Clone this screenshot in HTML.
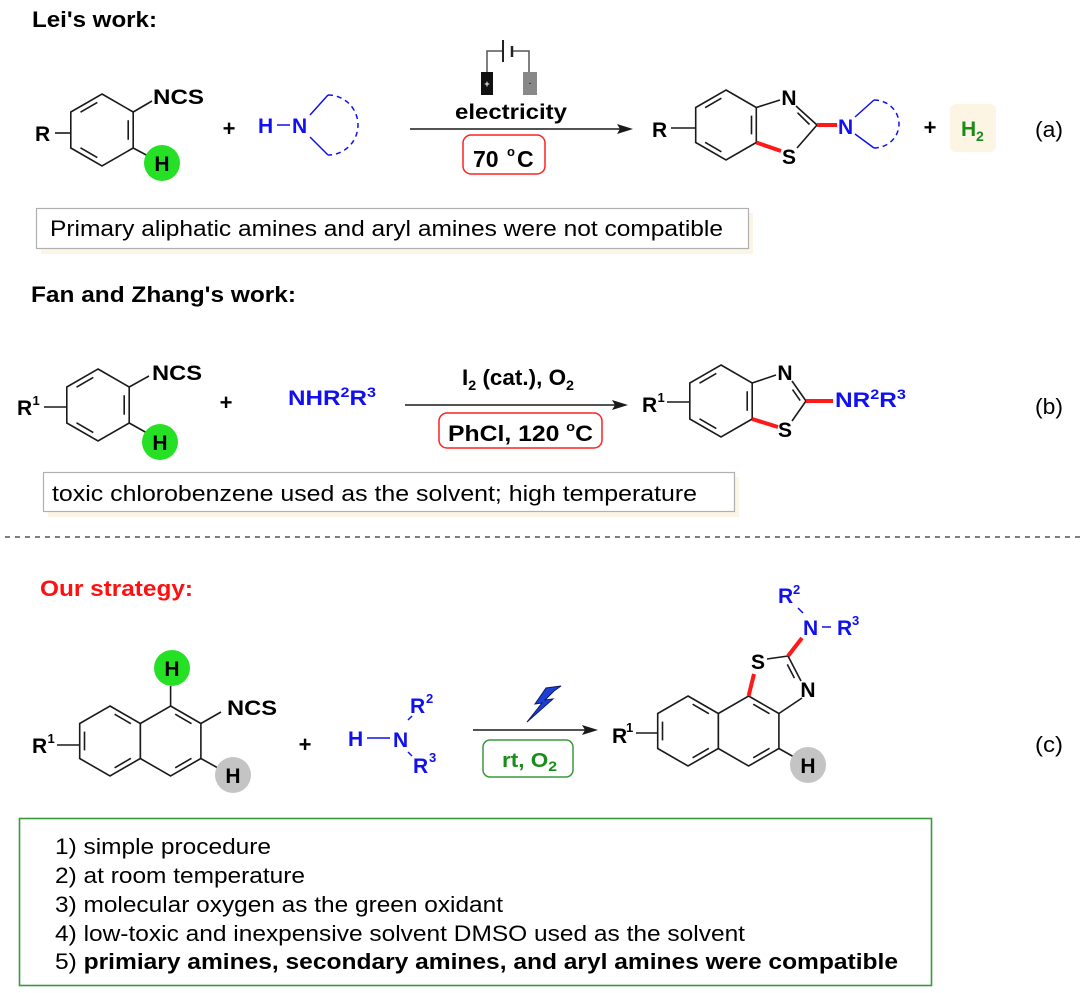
<!DOCTYPE html>
<html><head><meta charset="utf-8"><style>html,body{margin:0;padding:0;background:#fff;}svg{display:block;}</style></head>
<body>
<svg width="1080" height="993" viewBox="0 0 1080 993" xmlns="http://www.w3.org/2000/svg" font-family="'Liberation Sans', Arial, sans-serif">
<rect width="1080" height="993" fill="#fff"/>

<!-- ===================== (a) ===================== -->
<text x="32" y="27" font-size="22" font-weight="bold" textLength="125" lengthAdjust="spacingAndGlyphs">Lei's work:</text>

<!-- reactant ring -->
<g transform="translate(102,130)" stroke="#1a1a1a" stroke-width="1.6" fill="none">
  <polygon points="0,-36 31.2,-18 31.2,18 0,36 -31.2,18 -31.2,-18"/>
  <path d="M-21.5,-17.8 L-4.7,-27.6 M26.2,-9.7 L26.2,9.7 M-4.7,27.6 L-21.5,17.8"/>
</g>
<g stroke="#1a1a1a" stroke-width="1.6">
  <line x1="133.2" y1="112" x2="152" y2="101"/>
  <line x1="55" y1="133" x2="70.8" y2="133"/>
  <line x1="133.2" y1="148" x2="150" y2="157"/>
</g>
<text x="153" y="104" font-size="21" font-weight="bold" textLength="51" lengthAdjust="spacingAndGlyphs">NCS</text>
<text x="35" y="141" font-size="21" font-weight="bold">R</text>
<circle cx="162" cy="163" r="18" fill="#25e025"/>
<text x="162" y="171" font-size="21" font-weight="bold" text-anchor="middle">H</text>
<text x="229" y="136" font-size="22" font-weight="bold" text-anchor="middle">+</text>

<!-- amine -->
<g fill="#1010f0" font-size="21" font-weight="bold">
  <text x="258" y="133">H</text>
  <text x="292" y="133">N</text>
</g>
<g stroke="#1010f0" stroke-width="1.5" fill="none">
  <line x1="277" y1="125" x2="290" y2="125"/>
  <line x1="310" y1="115" x2="328" y2="95"/>
  <line x1="310" y1="137" x2="328" y2="155"/>
  <path d="M328,95 A30,30 0 1,1 328,155" stroke-dasharray="5,4"/>
</g>

<!-- battery -->
<g stroke="#555" stroke-width="1.5" fill="none">
  <polyline points="503,51 487,51 487,72"/>
  <polyline points="512,51 529,51 529,72"/>
</g>
<line x1="503" y1="40" x2="503" y2="62" stroke="#222" stroke-width="2"/>
<line x1="512" y1="46" x2="512" y2="57" stroke="#222" stroke-width="2.5"/>
<rect x="481" y="72" width="12" height="23" fill="#111"/>
<rect x="523" y="72" width="14" height="23" fill="#888"/>
<text x="487" y="87" font-size="9" fill="#fff" text-anchor="middle" font-weight="bold">+</text>
<text x="530" y="86" font-size="9" fill="#222" text-anchor="middle">-</text>

<text x="455" y="119" font-size="21" font-weight="bold" textLength="112" lengthAdjust="spacingAndGlyphs">electricity</text>
<line x1="410" y1="129" x2="620" y2="129" stroke="#1a1a1a" stroke-width="1.6"/>
<polygon points="633,129 617,124 620,129 617,134" fill="#1a1a1a"/>
<rect x="463" y="135" width="82" height="39" rx="8" fill="none" stroke="#ff2020" stroke-width="1.5"/>
<text font-size="23" font-weight="bold"><tspan x="473" y="167">70</tspan><tspan x="507" y="156" font-size="13">o</tspan><tspan x="517" y="167">C</tspan></text>

<!-- product a -->
<text x="652" y="137" font-size="21" font-weight="bold">R</text>
<g transform="translate(726,125)" stroke="#1a1a1a" stroke-width="1.6" fill="none">
  <polygon points="0,-35 30.3,-17.5 30.3,17.5 0,35 -30.3,17.5 -30.3,-17.5"/>
  <path d="M-20.9,-17.3 L-4.6,-26.8 M25.5,-9.4 L25.5,9.4 M-4.6,26.8 L-20.9,17.3"/>
</g>
<g stroke="#1a1a1a" stroke-width="1.6" fill="none">
  <line x1="671" y1="128" x2="695.7" y2="128"/>
  <line x1="756.3" y1="107.5" x2="780" y2="100"/>
  <line x1="796" y1="106" x2="817" y2="125"/>
  <line x1="797.5" y1="112.7" x2="809.5" y2="124.5"/>
  <line x1="817" y1="125" x2="797" y2="148"/>
</g>
<line x1="756.3" y1="142.5" x2="781" y2="151" stroke="#ff1a1a" stroke-width="4"/>
<line x1="817" y1="125" x2="837" y2="125" stroke="#ff1a1a" stroke-width="4"/>
<text x="789" y="105" font-size="21" font-weight="bold" text-anchor="middle">N</text>
<text x="789" y="164" font-size="21" font-weight="bold" text-anchor="middle">S</text>
<text x="838" y="134" font-size="21" font-weight="bold" fill="#1010f0">N</text>
<g stroke="#1010f0" stroke-width="1.5" fill="none">
  <line x1="855" y1="117" x2="874" y2="100"/>
  <line x1="855" y1="134" x2="874" y2="148"/>
  <path d="M874,100 A25,24 0 1,1 874,148" stroke-dasharray="5,4"/>
</g>
<text x="930" y="135" font-size="22" font-weight="bold" text-anchor="middle">+</text>
<rect x="950" y="104" width="46" height="48" rx="6" fill="#fcf5e3"/>
<text font-size="21" font-weight="bold" fill="#1a8c1a"><tspan x="961" y="136">H</tspan><tspan x="976" y="141" font-size="14">2</tspan></text>
<text x="1035" y="137" font-size="22" textLength="28" lengthAdjust="spacingAndGlyphs">(a)</text>

<!-- box a -->
<rect x="41" y="213" width="712" height="41" fill="#fbf5e6"/>
<rect x="36.5" y="208.5" width="712" height="40" fill="#fff" stroke="#b0b0b0" stroke-width="1.2"/>
<text x="50" y="236" font-size="22" textLength="673" lengthAdjust="spacingAndGlyphs">Primary aliphatic amines and aryl amines were not compatible</text>

<!-- ===================== (b) ===================== -->
<text x="31" y="302" font-size="22" font-weight="bold" textLength="265" lengthAdjust="spacingAndGlyphs">Fan and Zhang's work:</text>

<g transform="translate(98,405)" stroke="#1a1a1a" stroke-width="1.6" fill="none">
  <polygon points="0,-36 31.2,-18 31.2,18 0,36 -31.2,18 -31.2,-18"/>
  <path d="M-21.5,-17.8 L-4.7,-27.6 M26.2,-9.7 L26.2,9.7 M-4.7,27.6 L-21.5,17.8"/>
</g>
<g stroke="#1a1a1a" stroke-width="1.6">
  <line x1="129.2" y1="387" x2="149" y2="376"/>
  <line x1="44" y1="407" x2="66.8" y2="407"/>
  <line x1="129.2" y1="423" x2="147" y2="433"/>
</g>
<text x="152" y="380" font-size="21" font-weight="bold" textLength="50" lengthAdjust="spacingAndGlyphs">NCS</text>
<text font-size="21" font-weight="bold"><tspan x="17" y="415">R</tspan><tspan x="32.5" y="405" font-size="13">1</tspan></text>
<circle cx="160" cy="442" r="18" fill="#25e025"/>
<text x="160" y="450" font-size="21" font-weight="bold" text-anchor="middle">H</text>
<text x="226" y="410" font-size="22" font-weight="bold" text-anchor="middle">+</text>
<text x="288" y="405" font-size="21" font-weight="bold" fill="#1010f0" textLength="88" lengthAdjust="spacingAndGlyphs">NHR<tspan font-size="14" dy="-8">2</tspan><tspan dy="8">R</tspan><tspan font-size="14" dy="-8">3</tspan></text>

<text x="462" y="385" font-size="22" font-weight="bold" textLength="112" lengthAdjust="spacingAndGlyphs">I<tspan font-size="14" dy="5">2</tspan><tspan dy="-5"> (cat.), O</tspan><tspan font-size="14" dy="5">2</tspan></text>
<line x1="405" y1="405" x2="615" y2="405" stroke="#1a1a1a" stroke-width="1.6"/>
<polygon points="628,405 612,400 615,405 612,410" fill="#1a1a1a"/>
<rect x="439" y="413" width="163" height="35" rx="8" fill="none" stroke="#ff2020" stroke-width="1.5"/>
<text x="448" y="441" font-size="22" font-weight="bold" textLength="145" lengthAdjust="spacingAndGlyphs">PhCl, 120 <tspan font-size="13" dy="-10">o</tspan><tspan dy="10">C</tspan></text>

<!-- product b -->
<text font-size="21" font-weight="bold"><tspan x="642" y="412">R</tspan><tspan x="657.5" y="402" font-size="13">1</tspan></text>
<g transform="translate(721,401)" stroke="#1a1a1a" stroke-width="1.6" fill="none">
  <polygon points="0,-36 31.2,-18 31.2,18 0,36 -31.2,18 -31.2,-18"/>
  <path d="M-21.5,-17.8 L-4.7,-27.6 M26.2,-9.7 L26.2,9.7 M-4.7,27.6 L-21.5,17.8"/>
</g>
<g stroke="#1a1a1a" stroke-width="1.6" fill="none">
  <line x1="667" y1="402" x2="689.8" y2="402"/>
  <line x1="752.2" y1="383" x2="776" y2="375"/>
  <line x1="792" y1="381" x2="806" y2="401"/>
  <line x1="792.5" y1="389.6" x2="800.2" y2="400.6"/>
  <line x1="806" y1="401" x2="792" y2="421"/>
</g>
<line x1="752.2" y1="419" x2="778" y2="427" stroke="#ff1a1a" stroke-width="4"/>
<line x1="806" y1="401" x2="833" y2="401" stroke="#ff1a1a" stroke-width="4"/>
<text x="785" y="380" font-size="21" font-weight="bold" text-anchor="middle">N</text>
<text x="785" y="437" font-size="21" font-weight="bold" text-anchor="middle">S</text>
<text x="835" y="407" font-size="21" font-weight="bold" fill="#1010f0" textLength="71" lengthAdjust="spacingAndGlyphs">NR<tspan font-size="14" dy="-8">2</tspan><tspan dy="8">R</tspan><tspan font-size="14" dy="-8">3</tspan></text>
<text x="1035" y="414" font-size="22" textLength="28" lengthAdjust="spacingAndGlyphs">(b)</text>

<!-- box b -->
<rect x="48" y="477" width="691" height="40" fill="#fbf5e6"/>
<rect x="43.5" y="472.5" width="691" height="39" fill="#fff" stroke="#b0b0b0" stroke-width="1.2"/>
<text x="52" y="501" font-size="22" textLength="645" lengthAdjust="spacingAndGlyphs">toxic chlorobenzene used as the solvent; high temperature</text>

<!-- dashed separator -->
<line x1="5" y1="537" x2="1080" y2="537" stroke="#555" stroke-width="1.5" stroke-dasharray="5,5"/>

<!-- ===================== (c) ===================== -->
<text x="40" y="596" font-size="22" font-weight="bold" fill="#ff1010" textLength="153" lengthAdjust="spacingAndGlyphs">Our strategy:</text>

<!-- naphthalene reactant -->
<g transform="translate(110,741)" stroke="#1a1a1a" stroke-width="1.6" fill="none">
  <polygon points="0,-35 30.3,-17.5 30.3,17.5 0,35 -30.3,17.5 -30.3,-17.5"/>
  <path d="M-25.5,9.4 L-25.5,-9.4 M4.6,-26.8 L20.9,-17.3 M20.9,17.3 L4.6,26.8"/>
</g>
<g transform="translate(170.6,741)" stroke="#1a1a1a" stroke-width="1.6" fill="none">
  <polygon points="0,-35 30.3,-17.5 30.3,17.5 0,35 -30.3,17.5 -30.3,-17.5"/>
  <path d="M4.6,-26.8 L20.9,-17.3 M20.9,17.3 L4.6,26.8"/>
</g>
<g stroke="#1a1a1a" stroke-width="1.6">
  <line x1="170.6" y1="706" x2="170.6" y2="686"/>
  <line x1="200.9" y1="723.5" x2="221" y2="712"/>
  <line x1="200.9" y1="758.5" x2="218" y2="768"/>
  <line x1="57" y1="745" x2="79.7" y2="745"/>
</g>
<circle cx="172" cy="668" r="18" fill="#25e025"/>
<text x="172" y="676" font-size="21" font-weight="bold" text-anchor="middle">H</text>
<circle cx="233" cy="775" r="18" fill="#c4c4c4"/>
<text x="233" y="783" font-size="21" font-weight="bold" text-anchor="middle">H</text>
<text x="227" y="715" font-size="21" font-weight="bold" textLength="50" lengthAdjust="spacingAndGlyphs">NCS</text>
<text font-size="21" font-weight="bold"><tspan x="32" y="753">R</tspan><tspan x="47.5" y="743" font-size="13">1</tspan></text>
<text x="305" y="752" font-size="22" font-weight="bold" text-anchor="middle">+</text>

<!-- amine c -->
<g fill="#1010f0" font-size="21" font-weight="bold">
  <text x="348" y="746">H</text>
  <text x="393" y="747">N</text>
  <text x="410" y="713">R</text>
  <text x="426" y="703" font-size="13">2</text>
  <text x="413" y="773">R</text>
  <text x="429" y="762" font-size="13">3</text>
</g>
<g stroke="#1010f0" stroke-width="1.5">
  <line x1="367" y1="738" x2="390" y2="738"/>
  <line x1="408" y1="720" x2="412" y2="716"/>
  <line x1="408" y1="752" x2="412" y2="756"/>
</g>

<!-- arrow c -->
<path d="M561,686 L546,688 L535,704 L542,703 L527,722 L553,699 L545,700 L554,691 Z" fill="#1e3fd6" stroke="#0a1a6a" stroke-width="1"/>
<line x1="473" y1="730" x2="585" y2="730" stroke="#1a1a1a" stroke-width="1.6"/>
<polygon points="598,730 582,725 585,730 582,735" fill="#1a1a1a"/>
<rect x="483" y="740" width="90" height="37" rx="7" fill="none" stroke="#3a9a3a" stroke-width="1.5"/>
<text x="502" y="767" font-size="20" font-weight="bold" fill="#1a8c1a" textLength="55" lengthAdjust="spacingAndGlyphs">rt, O<tspan font-size="14" dy="4">2</tspan></text>

<!-- product c -->
<text font-size="21" font-weight="bold"><tspan x="612" y="743">R</tspan><tspan x="626" y="732" font-size="13">1</tspan></text>
<g transform="translate(688,731)" stroke="#1a1a1a" stroke-width="1.6" fill="none">
  <polygon points="0,-35 30.3,-17.5 30.3,17.5 0,35 -30.3,17.5 -30.3,-17.5"/>
  <path d="M-25.5,9.4 L-25.5,-9.4 M4.6,-26.8 L20.9,-17.3 M20.9,17.3 L4.6,26.8"/>
</g>
<g transform="translate(748.6,731)" stroke="#1a1a1a" stroke-width="1.6" fill="none">
  <polygon points="0,-35 30.3,-17.5 30.3,17.5 0,35 -30.3,17.5 -30.3,-17.5"/>
  <path d="M4.6,-26.8 L20.9,-17.3 M20.9,17.3 L4.6,26.8"/>
</g>
<g stroke="#1a1a1a" stroke-width="1.6" fill="none">
  <line x1="636" y1="733" x2="657.7" y2="733"/>
  <line x1="767" y1="659" x2="788" y2="656"/>
  <line x1="788" y1="656" x2="801" y2="681"/>
  <line x1="787.3" y1="664.4" x2="794.4" y2="678.1"/>
  <line x1="802" y1="698" x2="778.9" y2="713.5"/>
  <line x1="778.9" y1="748.5" x2="794" y2="757"/>
</g>
<line x1="748.6" y1="696" x2="754" y2="674" stroke="#ff1a1a" stroke-width="4"/>
<line x1="788" y1="656" x2="802" y2="638" stroke="#ff1a1a" stroke-width="4"/>
<text x="758" y="669" font-size="21" font-weight="bold" text-anchor="middle">S</text>
<text x="808" y="697" font-size="21" font-weight="bold" text-anchor="middle">N</text>
<circle cx="808" cy="765" r="18" fill="#c4c4c4"/>
<text x="808" y="773" font-size="21" font-weight="bold" text-anchor="middle">H</text>
<g fill="#1010f0" font-size="21" font-weight="bold">
  <text x="803" y="635">N</text>
  <text x="778" y="603">R</text>
  <text x="793" y="594" font-size="13">2</text>
  <text x="837" y="635">R</text>
  <text x="852" y="625" font-size="13">3</text>
</g>
<g stroke="#1010f0" stroke-width="1.5">
  <line x1="798" y1="608" x2="803" y2="613"/>
  <line x1="822" y1="627" x2="831" y2="627"/>
</g>
<text x="1035" y="752" font-size="22" textLength="28" lengthAdjust="spacingAndGlyphs">(c)</text>

<!-- bottom box -->
<rect x="19.5" y="818.5" width="912" height="167" fill="none" stroke="#3a9a3a" stroke-width="1.6"/>
<g font-size="22">
  <text x="55" y="854" textLength="216" lengthAdjust="spacingAndGlyphs">1) simple procedure</text>
  <text x="55" y="883" textLength="250" lengthAdjust="spacingAndGlyphs">2) at room temperature</text>
  <text x="55" y="912" textLength="448" lengthAdjust="spacingAndGlyphs">3) molecular oxygen as the green oxidant</text>
  <text x="55" y="941" textLength="690" lengthAdjust="spacingAndGlyphs">4) low-toxic and inexpensive solvent DMSO used as the solvent</text>
  <text x="55" y="969" textLength="843" lengthAdjust="spacingAndGlyphs">5) <tspan font-weight="bold">primiary amines, secondary amines, and aryl amines were compatible</tspan></text>
</g>
</svg>
</body></html>
